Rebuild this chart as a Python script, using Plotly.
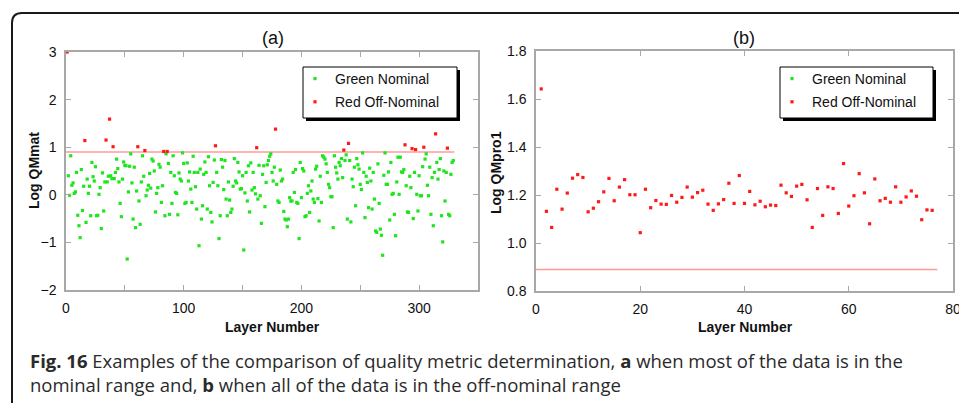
import plotly.graph_objects as go

# ---------------- data ----------------
qm_mat = [3.0, 0.40, -0.01, 0.82, 0.20, 0.25, 0.03, 0.06, 0.47, -0.43,
          -0.65, -0.90, 0.53, -0.33, 0.18, 1.14, -0.58, 0.33, 0.03, 0.18,
          -0.44, 0.68, 0.38, 0.29, 0.59, -0.44, -0.43, 0.01, 0.15, -0.71,
          0.46, -0.34, 0.27, 1.15, 0.27, 0.39, 1.59, 0.40, 0.34, 1.01,
          0.34, 0.47, 0.75, 0.55, 0.27, -0.18, -0.46, 0.33, 0.69, 0.62,
          0.61, -1.35, 0.06, 0.60, 0.86, 0.25, -0.51, 0.58, -0.69, 0.08,
          1.01, -0.13, -0.62, 0.27, 0.82, 0.39, 0.93, -0.02, 0.10, 0.20,
          0.45, 0.14, 0.75, 0.71, 0.50, -0.36, 0.03, 0.15, 0.64, 0.58,
          -0.16, 0.19, 0.91, -0.44, 0.86, 0.91, 0.66, -0.41, 0.47, -0.18,
          0.82, 0.40, 0.05, 0.03, -0.42, 0.46, 0.33, 0.29, 0.88, 0.66,
          -0.18, -0.16, 0.67, 0.29, 0.48, 0.12, -0.16, 0.81, 0.47, 0.17,
          -0.30, 0.47, -1.07, 0.54, -0.51, -0.23, 0.43, 0.69, 0.47, -0.30,
          0.80, 0.19, -0.37, -0.57, 0.26, 0.73, 1.03, 0.47, 0.19, -0.92,
          -0.44, 0.74, 0.58, 0.11, 0.72, -0.09, -0.44, 0.27, -0.11, -0.37,
          -0.30, 0.18, 0.76, 0.29, 0.25, 0.68, 0.48, 0.12, 0.13, 0.40,
          -1.16, 0.04, 0.47, -0.13, 0.61, -0.36, 0.67, 0.10, 0.47, 0.15,
          0.02, 0.99, -0.09, 0.62, -0.02, -0.60, 0.43, 0.61, -0.25, 0.26,
          0.63, 0.72, 0.81, 0.86, 0.47, 0.29, 0.58, 1.38, 0.22, -0.13,
          -0.16, 0.52, 0.29, 0.33, -0.35, -0.51, -0.53, -0.67, -0.51, -0.06,
          -0.13, -0.13, 0.47, 0.05, 0.53, -0.16, -0.18, -0.92, 0.68, -0.06,
          0.55, 0.50, -0.46, -0.44, 0.03, 0.19, -0.37, 0.08, 0.29, -0.09,
          -0.16, 0.54, 0.60, -0.08, -0.55, 0.39, -0.16, 0.82, 0.79, 0.75,
          0.65, 0.47, 0.22, 0.15, -0.04, -0.04, -0.69, 0.82, 0.58, 0.46,
          0.33, 0.68, 0.61, 0.76, 0.36, 0.94, 0.72, 0.84, -0.51, 1.08,
          0.72, -0.57, 0.33, 0.17, 0.58, -0.23, 0.76, 0.63, 0.54, 0.22,
          0.11, 0.88, 0.47, -0.48, 0.39, 0.26, -0.27, 0.56, 0.29, -0.30,
          0.47, -0.09, -0.76, -0.79, 0.65, -0.18, -0.72, -0.85, -1.27, 0.41,
          0.88, 0.22, 0.22, 0.48, -0.53, 0.68, 0.01, 0.03, -0.41, -0.86,
          0.27, 0.79, 0.01, 0.79, 0.48, 0.47, 0.53, 1.05, 0.19, -0.36,
          -0.37, 0.39, 0.15, 0.97, -0.50, 0.47, 0.95, 0.01, -0.34, 0.40,
          -0.02, -0.02, 0.59, 1.00, 0.75, 0.86, 0.20, -0.02, 0.58, -0.41,
          0.36, -0.65, 0.47, 1.28, 0.68, 0.33, 0.53, 0.76, -0.44, -0.99,
          0.50, -0.13, 0.47, 0.98, -0.41, -0.44, 0.43, 0.68, 0.72]
threshold_a = 0.9

qm_pro1 = [1.642, 1.132, 1.065, 1.224, 1.141, 1.208, 1.270, 1.285, 1.273, 1.130,
           1.145, 1.172, 1.213, 1.269, 1.176, 1.233, 1.264, 1.201, 1.201, 1.043,
           1.224, 1.147, 1.177, 1.162, 1.161, 1.198, 1.170, 1.190, 1.233, 1.191,
           1.210, 1.220, 1.162, 1.136, 1.163, 1.181, 1.249, 1.165, 1.281, 1.165,
           1.215, 1.159, 1.174, 1.151, 1.158, 1.156, 1.241, 1.209, 1.194, 1.237,
           1.244, 1.180, 1.065, 1.227, 1.115, 1.234, 1.227, 1.123, 1.331, 1.154,
           1.197, 1.289, 1.209, 1.080, 1.267, 1.176, 1.186, 1.170, 1.234, 1.170,
           1.192, 1.217, 1.195, 1.097, 1.138, 1.136]
threshold_b = 0.89

legend_names = ["Green Nominal", "Red Off-Nominal"]
titles = ["(a)", "(b)"]
ytitles = ["Log QMmat", "Log QMpro1"]
xtitle = "Layer Number"
xticks_a = [0, 100, 200, 300]
xticks_b = [0, 20, 40, 60, 80]
caption_lines = ["<b>Fig. 16</b> Examples of the comparison of quality metric determination, "
                 "<b>a</b> when most of the data is in the",
                 "nominal range and, <b>b</b> when all of the data is in the off-nominal range"]

GREEN = "#1fe51f"
RED = "#ff1a1a"
LINE = "#ff9a9a"
AXC = "#a8a8a8"
FONT = "Liberation Sans, Arial"

W, H = 959, 403


def px(x):
    return x / W


def py(y):
    return 1 - y / H


fig = go.Figure()


def add_panel(values, thr, xa, ya, legend):
    layers = list(range(1, len(values) + 1))
    gx = [l for l, v in zip(layers, values) if v <= thr]
    gy = [v for v in values if v <= thr]
    rx = [l for l, v in zip(layers, values) if v > thr]
    ry = [v for v in values if v > thr]
    if not gx:
        gx, gy = [None], [None]
    fig.add_trace(go.Scatter(x=[0, layers[-1] + 1], y=[thr, thr], mode="lines",
                             line=dict(color=LINE, width=1.5), showlegend=False,
                             xaxis=xa, yaxis=ya, hoverinfo="skip"))
    fig.add_trace(go.Scatter(x=gx, y=gy, mode="markers", name=legend_names[0],
                             marker=dict(color=GREEN, size=3.2, symbol="square"),
                             xaxis=xa, yaxis=ya, legend=legend, legendgroup="g",
                             showlegend=True))
    fig.add_trace(go.Scatter(x=rx, y=ry, mode="markers", name=legend_names[1],
                             marker=dict(color=RED, size=3.2, symbol="square"),
                             xaxis=xa, yaxis=ya, legend=legend, legendgroup="r"))


add_panel(qm_mat, threshold_a, "x", "y", "legend")
add_panel(qm_pro1, threshold_b, "x2", "y2", "legend2")

axis_common = dict(showline=True, linecolor=AXC, linewidth=1.5, mirror="ticks",
                   ticks="inside", ticklen=5, tickcolor=AXC, tickwidth=1,
                   showgrid=False, zeroline=False, automargin=False,
                   ticklabeloverflow="allow",
                   tickfont=dict(family=FONT, size=14, color="#111"),
                   )

legend_common = dict(xanchor="left", yanchor="top", bgcolor="rgba(0,0,0,0)",
                     borderwidth=0,
                     font=dict(family=FONT, size=14, color="#111"),
                     itemsizing="trace", tracegroupgap=2)

xa_vals = [0, 50, 100, 150, 200, 250, 300, 350]
fig.update_layout(
    width=W, height=H,
    margin=dict(l=0, r=0, t=0, b=0),
    paper_bgcolor="white", plot_bgcolor="white",
    font=dict(family=FONT, color="#111"),
    xaxis=dict(domain=[px(66), px(478)], range=[0, 350], anchor="y",
               tickvals=xa_vals,
               ticktext=[str(t) if t in xticks_a else "" for t in xa_vals],
               ticklabelstandoff=4, **axis_common),
    yaxis=dict(domain=[py(290), py(52)], range=[-2, 3], anchor="x", dtick=1,
               ticklabelstandoff=5, **axis_common),
    xaxis2=dict(domain=[px(536), px(953)], range=[0, 80], anchor="y2",
                tickvals=xticks_b, ticklabelstandoff=4, **axis_common),
    yaxis2=dict(domain=[py(291), py(51)], range=[0.8, 1.8], anchor="x2", dtick=0.2,
                tickformat=".1f", ticklabelstandoff=5, **axis_common),
    legend=dict(x=px(295), y=py(63), **legend_common),
    legend2=dict(x=px(772), y=py(63), **legend_common),
    showlegend=True,
)

# legend boxes with drop shadows
for x0, x1 in [(303, 457), (780, 933)]:
    fig.add_shape(type="rect", xref="paper", yref="paper",
                  x0=px(x0 + 3), x1=px(x1 + 3), y0=py(121), y1=py(70),
                  fillcolor="black", line=dict(width=0), layer="above")
    fig.add_shape(type="rect", xref="paper", yref="paper",
                  x0=px(x0), x1=px(x1), y0=py(118), y1=py(67),
                  fillcolor="white", line=dict(color="black", width=1), layer="above")

# outer rounded frame
r = 10
path = (f"M {px(12)},{py(420)} L {px(12)},{py(13 + r)} "
        f"Q {px(12)},{py(13)} {px(12 + r)},{py(13)} L {px(980)},{py(13)}")
fig.add_shape(type="path", xref="paper", yref="paper", path=path,
              line=dict(color="#1a1a1a", width=2))

ann = []
ann.append(dict(x=px(273), y=py(38), text=titles[0], font=dict(size=18)))
ann.append(dict(x=px(744), y=py(38), text=titles[1], font=dict(size=18)))
ann.append(dict(x=px(272), y=py(327), text=f"<b>{xtitle}</b>", font=dict(size=14)))
ann.append(dict(x=px(745), y=py(327), text=f"<b>{xtitle}</b>", font=dict(size=14)))
ann.append(dict(x=px(34), y=py(171), text=f"<b>{ytitles[0]}</b>", textangle=-90, font=dict(size=14)))
ann.append(dict(x=px(496), y=py(173), text=f"<b>{ytitles[1]}</b>", textangle=-90, font=dict(size=14)))
for a in ann:
    a.update(xref="paper", yref="paper", showarrow=False, xanchor="center", yanchor="middle")
    a["font"].update(family=FONT, color="#111")
    fig.add_annotation(**a)

cap_font = dict(family="Open Sans, Noto Sans, sans-serif", size=18.5, color="#2a2a2a")
fig.add_annotation(xref="paper", yref="paper", x=px(28), y=py(399), xanchor="left", yanchor="bottom",
                   align="left", showarrow=False, font=cap_font,
                   text="<br>".join(caption_lines))

fig.write_html("out.html")
